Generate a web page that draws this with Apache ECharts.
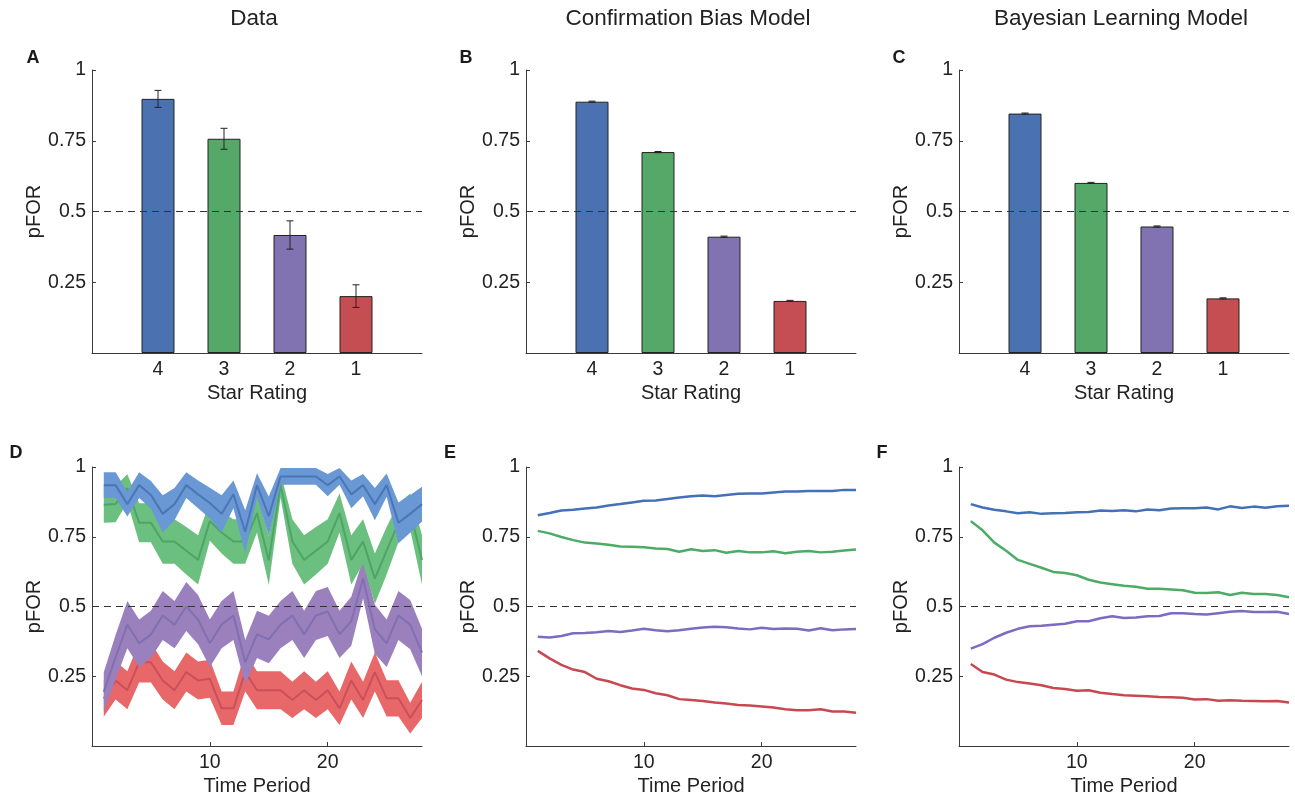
<!DOCTYPE html>
<html>
<head>
<meta charset="utf-8">
<script src="https://cdn.jsdelivr.net/npm/echarts@6/dist/echarts.min.js"></script>
<style>
html,body{margin:0;padding:0;background:#fff;}
#c{width:1295px;height:797px;}
</style>
</head>
<body>
<div id="c"></div>
<script>
// ---------- DATA ----------
const PANEL_TITLES = ['Data', 'Confirmation Bias Model', 'Bayesian Learning Model'];
const PANEL_LETTERS = ['A', 'B', 'C', 'D', 'E', 'F'];
const STAR_CATS = ['', '4', '3', '2', '1', ''];
const Y_TICKS = [0.25, 0.5, 0.75, 1];
const X_TICKS = [10, 20];
const TIME = [1,2,3,4,5,6,7,8,9,10,11,12,13,14,15,16,17,18,19,20,21,22,23,24,25,26,27,28];

// bar panels: values for ratings 4,3,2,1 and standard errors
const barA = [0.898, 0.757, 0.417, 0.201];
const errA = [0.030, 0.037, 0.050, 0.040];
const barB = [0.888, 0.710, 0.411, 0.184];
const errB = [0.002, 0.002, 0.002, 0.002];
const barC = [0.846, 0.601, 0.447, 0.193];
const errC = [0.002, 0.002, 0.002, 0.002];

// panel D: empirical means and standard errors over time
const dBlue   = [0.935,0.935,0.867,0.935,0.900,0.832,0.867,0.935,0.902,0.871,0.832,0.902,0.768,0.935,0.824,0.966,0.966,0.966,0.966,0.935,0.966,0.902,0.935,0.867,0.935,0.800,0.832,0.867];
const dBlueSe = [0.046,0.046,0.044,0.046,0.050,0.067,0.058,0.046,0.050,0.055,0.067,0.050,0.077,0.043,0.070,0.030,0.030,0.030,0.030,0.040,0.030,0.050,0.040,0.058,0.042,0.073,0.068,0.062];
const dGreen   = [0.865,0.867,0.924,0.800,0.800,0.733,0.733,0.700,0.667,0.806,0.765,0.733,0.733,0.835,0.665,0.935,0.733,0.667,0.700,0.733,0.835,0.667,0.733,0.600,0.700,0.800,0.840,0.667];
const dGreenSe = [0.065,0.065,0.050,0.070,0.070,0.080,0.080,0.085,0.088,0.070,0.075,0.080,0.080,0.070,0.088,0.045,0.080,0.088,0.085,0.080,0.070,0.088,0.080,0.090,0.085,0.070,0.065,0.088];
const dPurple   = [0.194,0.318,0.435,0.368,0.400,0.468,0.435,0.500,0.453,0.368,0.435,0.468,0.300,0.400,0.382,0.435,0.468,0.400,0.468,0.482,0.400,0.447,0.600,0.418,0.368,0.468,0.435,0.335];
const dPurpleSe = [0.070,0.080,0.085,0.085,0.085,0.088,0.085,0.088,0.088,0.085,0.085,0.088,0.080,0.085,0.085,0.085,0.088,0.085,0.088,0.088,0.085,0.088,0.070,0.088,0.085,0.088,0.088,0.085];
const dRed   = [0.170,0.235,0.200,0.300,0.300,0.235,0.200,0.265,0.235,0.241,0.135,0.135,0.265,0.200,0.200,0.200,0.165,0.200,0.165,0.200,0.135,0.235,0.165,0.265,0.171,0.171,0.100,0.165];
const dRedSe = [0.065,0.068,0.068,0.072,0.072,0.068,0.068,0.070,0.068,0.068,0.060,0.060,0.070,0.068,0.068,0.068,0.065,0.068,0.065,0.068,0.060,0.068,0.065,0.070,0.065,0.065,0.055,0.065];

// panel E: confirmation bias model
const eBlue   = [0.827,0.835,0.844,0.847,0.851,0.855,0.862,0.867,0.873,0.879,0.880,0.885,0.891,0.895,0.898,0.895,0.900,0.904,0.905,0.905,0.909,0.912,0.912,0.914,0.914,0.914,0.918,0.918];
const eGreen  = [0.771,0.762,0.749,0.738,0.729,0.726,0.721,0.715,0.714,0.712,0.708,0.706,0.696,0.705,0.699,0.702,0.693,0.699,0.694,0.694,0.698,0.691,0.696,0.699,0.694,0.696,0.701,0.704];
const ePurple = [0.392,0.389,0.394,0.404,0.405,0.408,0.412,0.409,0.414,0.420,0.415,0.411,0.415,0.420,0.425,0.427,0.426,0.421,0.418,0.424,0.419,0.421,0.420,0.414,0.422,0.415,0.418,0.419];
const eRed    = [0.341,0.314,0.291,0.274,0.265,0.241,0.232,0.218,0.206,0.201,0.189,0.182,0.168,0.165,0.161,0.156,0.152,0.147,0.145,0.142,0.138,0.132,0.128,0.128,0.132,0.124,0.124,0.119];

// panel F: Bayesian learning model
const fBlue   = [0.867,0.855,0.847,0.841,0.834,0.838,0.832,0.834,0.835,0.838,0.839,0.844,0.842,0.845,0.841,0.848,0.845,0.851,0.852,0.852,0.855,0.848,0.859,0.853,0.858,0.854,0.859,0.861];
const fGreen  = [0.806,0.773,0.729,0.700,0.667,0.653,0.639,0.624,0.620,0.612,0.596,0.586,0.580,0.574,0.571,0.564,0.564,0.561,0.558,0.549,0.548,0.551,0.541,0.549,0.545,0.545,0.541,0.533];
const fPurple = [0.349,0.365,0.388,0.406,0.420,0.429,0.431,0.435,0.438,0.447,0.447,0.458,0.465,0.459,0.461,0.465,0.466,0.476,0.476,0.473,0.471,0.476,0.481,0.484,0.480,0.480,0.481,0.473];
const fRed    = [0.294,0.265,0.256,0.238,0.229,0.224,0.218,0.208,0.204,0.198,0.200,0.191,0.186,0.182,0.180,0.178,0.176,0.175,0.173,0.167,0.168,0.162,0.164,0.162,0.161,0.160,0.161,0.156];

// ---------- STYLE ----------
const FONT = '"Liberation Sans", Arial, Helvetica, sans-serif';
const TXT = '#222222';
const AXC = '#3a3a3a';
const BAR_COLORS = ['#4a72b0', '#55a868', '#8172b2', '#c44e52'];
const BAND_COLORS = ['#6a98d4', '#6cc07f', '#9a80bc', '#e8686a'];
const BAND_LINE = ['#4a76b8', '#4ea465', '#8070b2', '#c9505a'];
const MODEL_LINE = ['#4470b8', '#4cac66', '#7c6bbf', '#c84850'];

const LEFTS = [92, 526, 959];
const TOPS = [70, 467];
const W = 330, H = 283;
const TICK_FS = 19.5;

const chart = echarts.init(document.getElementById('c'), null, {renderer: 'canvas'});

const grids = [], xAxes = [], yAxes = [], series = [];

function yAxisDef(i) {
  return {
    gridIndex: i, type: 'value', min: 0, max: 1,
    name: 'pFOR', nameLocation: 'middle', nameGap: 46,
    nameTextStyle: {fontFamily: FONT, fontSize: 20, color: TXT},
    axisLine: {show: true, lineStyle: {color: AXC, width: 1}},
    axisTick: {show: true, inside: true, length: 4, customValues: Y_TICKS, lineStyle: {color: AXC}},
    axisLabel: {show: true, customValues: Y_TICKS, margin: 6, fontFamily: FONT, fontSize: TICK_FS, color: TXT,
      formatter: v => String(v)},
    splitLine: {show: false}
  };
}

const dashLine = {
  symbol: 'none', silent: true, label: {show: false},
  lineStyle: {type: [7, 5], color: '#333', width: 1},
  data: [{yAxis: 0.5}]
};

// top row bar panels
const barSets = [[barA, errA], [barB, errB], [barC, errC]];
for (let p = 0; p < 3; p++) {
  const i = p;
  grids.push({left: LEFTS[p], top: TOPS[0], width: W, height: H});
  xAxes.push({
    gridIndex: i, type: 'category', data: STAR_CATS, boundaryGap: false,
    name: 'Star Rating', nameLocation: 'middle', nameGap: 30,
    nameTextStyle: {fontFamily: FONT, fontSize: 20, color: TXT},
    axisLine: {show: true, onZero: false, lineStyle: {color: AXC, width: 1}},
    axisTick: {show: false},
    axisLabel: {interval: 0, margin: 7, fontFamily: FONT, fontSize: TICK_FS, color: TXT}
  });
  yAxes.push(yAxisDef(i));
  const vals = barSets[p][0], errs = barSets[p][1];
  const barData = ['-'].concat(vals.map((v, k) => ({value: v, itemStyle: {color: BAR_COLORS[k]}}))).concat(['-']);
  series.push({
    type: 'bar', xAxisIndex: i, yAxisIndex: i, data: barData, barWidth: 33, z: 2,
    itemStyle: {borderColor: '#222', borderWidth: 1},
    markLine: dashLine, silent: true, animation: false
  });
  const errData = vals.map((v, k) => [k + 1, v - errs[k], v + errs[k]]);
  series.push({
    type: 'custom', xAxisIndex: i, yAxisIndex: i, data: errData, z: 5, silent: true, animation: false,
    encode: {x: 0, y: [1, 2]},
    renderItem: function (params, api) {
      const lo = api.coord([api.value(0), api.value(1)]);
      const hi = api.coord([api.value(0), api.value(2)]);
      const cw = 3.5;
      const st = {stroke: '#222', lineWidth: 1, fill: null};
      return {type: 'group', children: [
        {type: 'line', shape: {x1: lo[0], y1: lo[1], x2: hi[0], y2: hi[1]}, style: st},
        {type: 'line', shape: {x1: lo[0] - cw, y1: lo[1], x2: lo[0] + cw, y2: lo[1]}, style: st},
        {type: 'line', shape: {x1: hi[0] - cw, y1: hi[1], x2: hi[0] + cw, y2: hi[1]}, style: st}
      ]};
    }
  });
}

// bottom row time panels
function timeXAxis(i) {
  return {
    gridIndex: i, type: 'value', min: 0, max: 28,
    name: 'Time Period', nameLocation: 'middle', nameGap: 30,
    nameTextStyle: {fontFamily: FONT, fontSize: 20, color: TXT},
    axisLine: {show: true, onZero: false, lineStyle: {color: AXC, width: 1}},
    axisTick: {show: true, inside: true, length: 4, customValues: X_TICKS, lineStyle: {color: AXC}},
    axisLabel: {customValues: X_TICKS, margin: 7, fontFamily: FONT, fontSize: TICK_FS, color: TXT},
    splitLine: {show: false}
  };
}

function bandSeries(i, mean, se, color, z) {
  const data = TIME.map((t, k) => [t, mean[k] - se[k], mean[k] + se[k]]);
  return {
    type: 'custom', xAxisIndex: i, yAxisIndex: i, data: data, z: z, silent: true, clip: true, animation: false,
    encode: {x: 0, y: [1, 2]},
    renderItem: function (params, api) {
      if (params.dataIndex !== 0) return;
      const up = [], lo = [];
      for (let k = 0; k < data.length; k++) {
        up.push(api.coord([data[k][0], data[k][2]]));
        lo.push(api.coord([data[k][0], data[k][1]]));
      }
      return {type: 'polygon', shape: {points: up.concat(lo.reverse())}, style: {fill: color}};
    }
  };
}

function lineSeries(i, vals, color, width, z, withDash) {
  const s = {
    type: 'line', xAxisIndex: i, yAxisIndex: i, data: TIME.map((t, k) => [t, vals[k]]),
    showSymbol: false, symbol: 'none', z: z, silent: true, animation: false,
    lineStyle: {color: color, width: width}
  };
  if (withDash) s.markLine = dashLine;
  return s;
}

const dMeans = [dBlue, dGreen, dPurple, dRed];
const dSes = [dBlueSe, dGreenSe, dPurpleSe, dRedSe];
const eSets = [eBlue, eGreen, ePurple, eRed];
const fSets = [fBlue, fGreen, fPurple, fRed];

for (let p = 0; p < 3; p++) {
  const i = 3 + p;
  grids.push({left: LEFTS[p], top: TOPS[1], width: W, height: H});
  xAxes.push(timeXAxis(i));
  yAxes.push(yAxisDef(i));
}
// D: draw red first, blue last
for (let k = 3; k >= 0; k--) {
  const zb = 2 + (3 - k) * 2;
  series.push(bandSeries(3, dMeans[k], dSes[k], BAND_COLORS[k], zb));
  series.push(lineSeries(3, dMeans[k], BAND_LINE[k], 2, zb + 1, false));
}
series.push(lineSeries(3, dBlue, 'rgba(0,0,0,0)', 0, 20, true));
// E and F
[eSets, fSets].forEach((sets, j) => {
  const i = 4 + j;
  for (let k = 3; k >= 0; k--) {
    series.push(lineSeries(i, sets[k], MODEL_LINE[k], 2.5, 3 + (3 - k), k === 0));
  }
});

const graphics = [];
PANEL_TITLES.forEach((t, p) => {
  graphics.push({type: 'text', x: LEFTS[p] + W / 2 - 3, y: 19,
    style: {text: t, fontFamily: FONT, fontSize: 22.5, fill: TXT, textAlign: 'center', textVerticalAlign: 'middle'}});
});
const letterPos = [[33, 58], [466, 58], [899, 58], [16, 453], [450, 453], [882, 453]];
PANEL_LETTERS.forEach((L, k) => {
  graphics.push({type: 'text', x: letterPos[k][0], y: letterPos[k][1],
    style: {text: L, fontFamily: FONT, fontSize: 18, fontWeight: 'bold', fill: '#1a1a1a', textAlign: 'center', textVerticalAlign: 'middle'}});
});

chart.setOption({
  animation: false,
  backgroundColor: '#fff',
  grid: grids,
  xAxis: xAxes,
  yAxis: yAxes,
  series: series,
  graphic: graphics
});
</script>
</body>
</html>
